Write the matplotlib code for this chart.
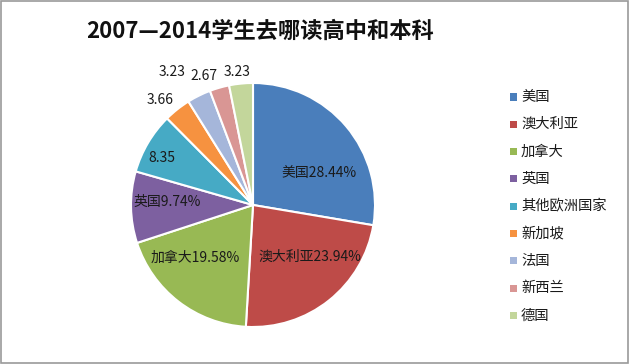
import numpy as np
import matplotlib
matplotlib.use("Agg")
import matplotlib.pyplot as plt
from matplotlib.patches import Rectangle

plt.rcParams['font.family'] = ['Noto Sans CJK SC', 'DejaVu Sans']

categories = ['美国', '澳大利亚', '加拿大', '英国', '其他欧洲国家', '新加坡', '法国', '新西兰', '德国']
values = [28.44, 23.94, 19.58, 9.74, 8.35, 3.66, 3.23, 2.67, 3.23]
label_texts = ['美国28.44%', '澳大利亚23.94%', '加拿大19.58%', '英国9.74%', '8.35', '3.66', '3.23', '2.67', '3.23']
colors = ['#4A7EBB', '#BE4B48', '#98B954', '#7D60A0', '#46AAC5', '#F69240', '#A5B6DA', '#D99694', '#C3D69B']
title = '2007—2014学生去哪读高中和本科'

# label placement (radius fraction, angle offset in degrees)
label_r = [0.60, 0.63, 0.64, 0.70, 0.84, 1.15, 1.28, 1.13, 1.10]
label_da = [-14, 9, -10, -3, 3, 3, 5, 5, 1]

fig = plt.figure(figsize=(6.3, 3.64), dpi=100)
fig.patch.set_facecolor('white')
fig.add_artist(Rectangle((0.002, 0.004), 0.995, 0.993, transform=fig.transFigure,
                         fill=False, edgecolor='#9a9a9a', linewidth=1.2))

ax = fig.add_axes([(253 - 122) / 630, (364 - 205 - 122) / 364, 244 / 630, 244 / 364])
wedges, _ = ax.pie(values, colors=colors, startangle=90, counterclock=False,
                   wedgeprops=dict(edgecolor='white', linewidth=1.5))
ax.set_xlim(-1, 1)
ax.set_ylim(-1, 1)
ax.set_aspect('equal')
ax.axis('off')

for w, txt, r, da in zip(wedges, label_texts, label_r, label_da):
    ang = np.deg2rad((w.theta1 + w.theta2) / 2 + da)
    ax.text(r * np.cos(ang), r * np.sin(ang), txt, ha='center', va='center',
            fontsize=10, color='#1a1a1a', clip_on=False)

fig.text(0.413, 1 - 31 / 364, title, ha='center', va='center', fontsize=16, fontweight='bold', color='#111111')

# legend
leg_y0 = 97
leg_dy = 27.3
for i, (c, name) in enumerate(zip(colors, categories)):
    y = leg_y0 + i * leg_dy
    fig.add_artist(Rectangle((510 / 630, 1 - (y + 3.5) / 364), 7 / 630, 7 / 364,
                             transform=fig.transFigure, facecolor=c, edgecolor='none'))
    fig.text(521 / 630, 1 - y / 364, name, ha='left', va='center', fontsize=10.3, color='#1a1a1a')

fig.savefig('out.png', dpi=100, facecolor='white')
